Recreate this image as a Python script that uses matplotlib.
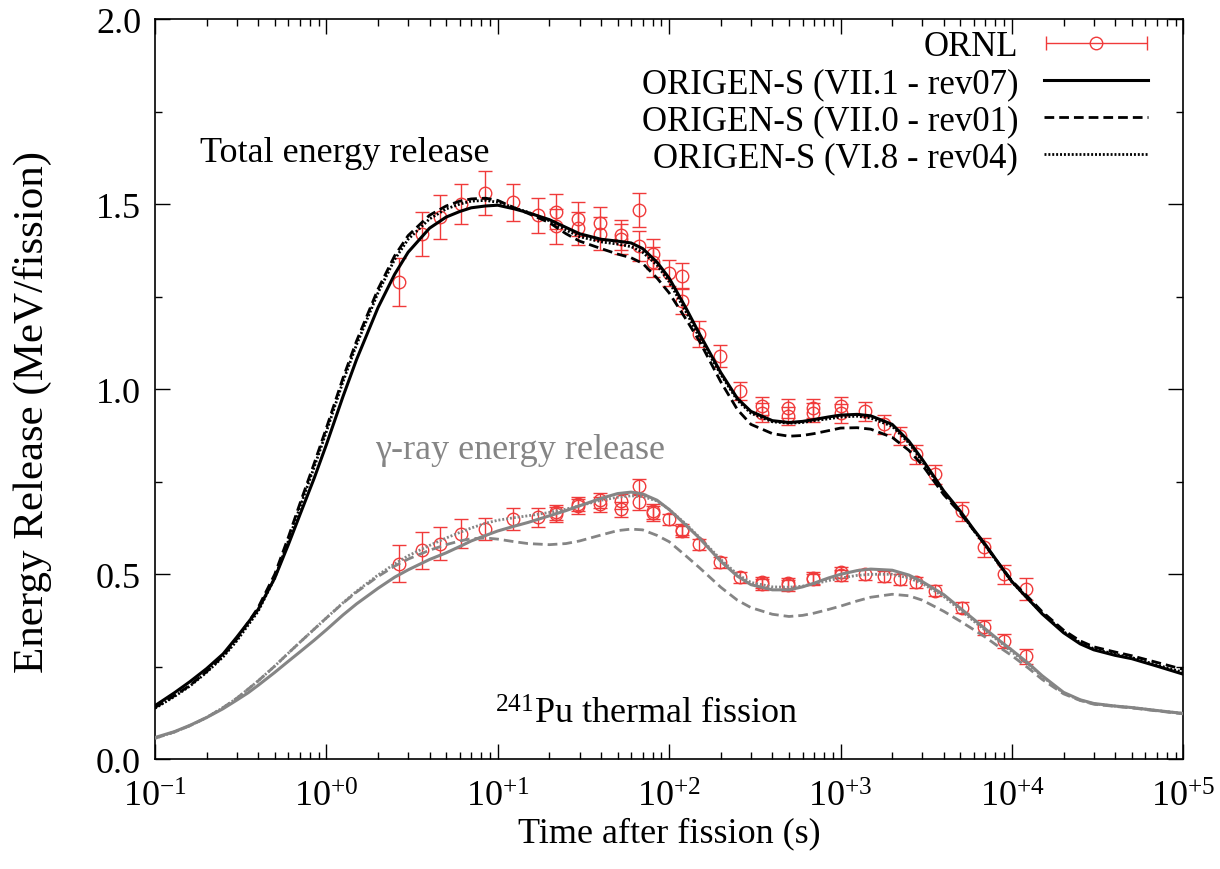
"""Pu-241 thermal fission: decay-heat energy release, ORNL data vs ORIGEN-S."""
import matplotlib
matplotlib.use("Agg")
import matplotlib.pyplot as plt
from matplotlib.legend_handler import HandlerErrorbar
from matplotlib.ticker import FixedLocator, FixedFormatter, LogLocator, MultipleLocator, NullFormatter

plt.rcParams["font.family"] = ["Liberation Serif", "DejaVu Serif"]
plt.rcParams["mathtext.fontset"] = "custom"
plt.rcParams["mathtext.rm"] = "Liberation Serif"
plt.rcParams["mathtext.it"] = "Liberation Serif:italic"

# ---- ORNL measurements (time s, total, gamma, errors) ----
t_ornl = [2.65, 3.6, 4.6, 6.1, 8.4, 12.3, 17.2, 22, 22, 29.4, 29.4, 39.5, 39.5,
          52.5, 52.5, 67, 67, 80, 80, 100, 119, 119, 149, 198, 259, 350, 350,
          495, 495, 692, 692, 1000, 1000, 1380, 1780, 2230, 2750, 3550, 5080,
          6900, 8950, 12000]
tot_ornl = [1.29, 1.42, 1.465, 1.50, 1.53, 1.505, 1.47, 1.48, 1.44, 1.46, 1.435,
            1.448, 1.42, 1.416, 1.405, 1.484, 1.387, 1.365, 1.343, 1.313, 1.305,
            1.238, 1.15, 1.09, 0.995, 0.955, 0.937, 0.948, 0.928, 0.948, 0.937,
            0.955, 0.935, 0.94, 0.905, 0.874, 0.824, 0.77, 0.67, 0.573, 0.50, 0.46]
tot_err = [0.065, 0.06, 0.06, 0.055, 0.06, 0.05, 0.047, 0.047, 0.047, 0.045, 0.045,
           0.045, 0.045, 0.04, 0.04, 0.045, 0.04, 0.04, 0.04, 0.035, 0.035,
           0.035, 0.035, 0.03, 0.025, 0.025, 0.025, 0.025, 0.025, 0.025, 0.025,
           0.025, 0.025, 0.025, 0.025, 0.025, 0.025, 0.025, 0.025, 0.025, 0.025, 0.03]
gam_ornl = [0.529, 0.565, 0.583, 0.61, 0.622, 0.649, 0.654, 0.662, 0.668, 0.684,
            0.69, 0.689, 0.70, 0.697, 0.676, 0.738, 0.695, 0.67, 0.665, 0.649,
            0.616, 0.62, 0.581, 0.532, 0.492, 0.473, 0.478, 0.476, 0.47, 0.486,
            0.49, 0.505, 0.497, 0.50, 0.495, 0.486, 0.478, 0.455, 0.41, 0.357,
            0.32, 0.278]
gam_err = [0.05, 0.05, 0.045, 0.04, 0.03, 0.03, 0.025, 0.02, 0.02, 0.02, 0.02,
           0.02, 0.02, 0.02, 0.02, 0.02, 0.02, 0.02, 0.02, 0.015, 0.015, 0.015,
           0.015, 0.015, 0.015, 0.015, 0.015, 0.015, 0.015, 0.015, 0.015, 0.015,
           0.015, 0.015, 0.015, 0.015, 0.015, 0.015, 0.015, 0.02, 0.02, 0.02]

# ---- ORIGEN-S calculations on a common time grid ----
t_calc = [0.1, 0.13, 0.16, 0.2, 0.25, 0.3, 0.35, 0.4, 0.5, 0.6, 0.7, 0.85, 1,
          1.25, 1.5, 2, 2.5, 3, 4, 5, 6, 7, 8.5, 10, 12.5, 15, 20, 25, 30, 40,
          50, 60, 70, 85, 100, 125, 150, 200, 250, 300, 400, 500, 600, 700, 850,
          1000, 1250, 1500, 2000, 2500, 3000, 4000, 5000, 6000, 7000, 8500,
          1e4, 1.25e4, 1.5e4, 2e4, 2.5e4, 3e4, 4e4, 5e4, 7e4, 1e5]

tot_rev07 = [0.145, 0.18, 0.21, 0.245, 0.285, 0.33, 0.37, 0.405, 0.49, 0.58,
             0.66, 0.76, 0.85, 0.98, 1.08, 1.22, 1.31, 1.37, 1.435, 1.465, 1.48,
             1.49, 1.495, 1.497, 1.487, 1.477, 1.458, 1.437, 1.42, 1.405, 1.40,
             1.395, 1.38, 1.343, 1.30, 1.22, 1.15, 1.045, 0.975, 0.94, 0.915,
             0.91, 0.913, 0.918, 0.925, 0.93, 0.932, 0.928, 0.905, 0.86, 0.81,
             0.725, 0.67, 0.62, 0.58, 0.525, 0.48, 0.432, 0.393, 0.342, 0.312,
             0.296, 0.281, 0.272, 0.252, 0.23]
tot_rev01 = [0.14, 0.172, 0.20, 0.237, 0.28, 0.325, 0.37, 0.41, 0.50, 0.60,
             0.69, 0.80, 0.895, 1.03, 1.13, 1.27, 1.36, 1.415, 1.47, 1.495, 1.508,
             1.514, 1.516, 1.51, 1.49, 1.475, 1.45, 1.42, 1.40, 1.38, 1.365,
             1.355, 1.34, 1.30, 1.26, 1.19, 1.13, 1.02, 0.945, 0.905, 0.88,
             0.873, 0.875, 0.88, 0.888, 0.895, 0.896, 0.892, 0.87, 0.835, 0.795,
             0.715, 0.665, 0.618, 0.578, 0.525, 0.482, 0.437, 0.399, 0.349, 0.32,
             0.304, 0.29, 0.28, 0.262, 0.243]
tot_rev04 = [0.138, 0.17, 0.198, 0.235, 0.277, 0.32, 0.363, 0.40, 0.49, 0.59,
             0.68, 0.79, 0.885, 1.02, 1.12, 1.26, 1.35, 1.405, 1.46, 1.487, 1.50,
             1.508, 1.51, 1.505, 1.49, 1.478, 1.455, 1.43, 1.412, 1.398, 1.392,
             1.385, 1.37, 1.335, 1.29, 1.21, 1.14, 1.04, 0.97, 0.935, 0.912,
             0.908, 0.91, 0.915, 0.92, 0.925, 0.927, 0.922, 0.90, 0.855, 0.805,
             0.722, 0.667, 0.618, 0.577, 0.523, 0.479, 0.432, 0.395, 0.345, 0.315,
             0.299, 0.284, 0.275, 0.255, 0.235]

gam_rev07 = [0.059, 0.075, 0.092, 0.113, 0.137, 0.16, 0.18, 0.20, 0.235, 0.265,
             0.29, 0.322, 0.35, 0.39, 0.42, 0.462, 0.492, 0.512, 0.54, 0.558,
             0.575, 0.59, 0.605, 0.617, 0.63, 0.64, 0.658, 0.672, 0.685, 0.705,
             0.718, 0.722, 0.717, 0.70, 0.675, 0.633, 0.598, 0.535, 0.495, 0.472,
             0.458, 0.458, 0.466, 0.476, 0.49, 0.50, 0.51, 0.514, 0.511, 0.498,
             0.48, 0.445, 0.408, 0.378, 0.352, 0.32, 0.295, 0.259, 0.226, 0.181,
             0.161, 0.151, 0.144, 0.14, 0.132, 0.124]
gam_rev01 = [0.057, 0.074, 0.091, 0.113, 0.14, 0.165, 0.19, 0.212, 0.252, 0.287,
             0.316, 0.352, 0.382, 0.422, 0.452, 0.494, 0.522, 0.541, 0.565, 0.58,
             0.59, 0.596, 0.598, 0.595, 0.588, 0.583, 0.58, 0.583, 0.59, 0.606,
             0.618, 0.622, 0.62, 0.605, 0.588, 0.55, 0.518, 0.465, 0.43, 0.41,
             0.392, 0.386, 0.389, 0.395, 0.405, 0.414, 0.428, 0.438, 0.446, 0.442,
             0.43, 0.40, 0.373, 0.35, 0.33, 0.302, 0.28, 0.246, 0.216, 0.177,
             0.159, 0.149, 0.143, 0.139, 0.131, 0.123]
gam_rev04 = [0.057, 0.074, 0.091, 0.113, 0.14, 0.165, 0.19, 0.212, 0.252, 0.287,
             0.316, 0.352, 0.382, 0.423, 0.454, 0.498, 0.528, 0.55, 0.578, 0.598,
             0.613, 0.625, 0.638, 0.646, 0.653, 0.658, 0.667, 0.676, 0.685, 0.70,
             0.708, 0.712, 0.71, 0.698, 0.675, 0.636, 0.60, 0.54, 0.50, 0.478,
             0.466, 0.465, 0.468, 0.474, 0.483, 0.49, 0.497, 0.50, 0.50, 0.49,
             0.475, 0.44, 0.403, 0.373, 0.348, 0.317, 0.29, 0.256, 0.224, 0.179,
             0.16, 0.15, 0.144, 0.14, 0.132, 0.124]

x_ticks = [1e-1, 1e0, 1e1, 1e2, 1e3, 1e4, 1e5]
x_ticklabels = [r"$10^{-1}$", r"$10^{+0}$", r"$10^{+1}$", r"$10^{+2}$",
                r"$10^{+3}$", r"$10^{+4}$", r"$10^{+5}$"]

RED = "#f03a3a"
GREY = "#858585"
FS = 26

fig = plt.figure(figsize=(12.2, 8.7), dpi=100)
ax = fig.add_axes([0.127, 0.126, 0.843, 0.851])

# measurements first, curves on top of them
eb_kw = dict(fmt="o", color=RED, mfc="none", mec=RED, ms=9, mew=1.0,
             elinewidth=1.0, capsize=5, capthick=1.0, zorder=2)
ax.errorbar(t_ornl, tot_ornl, yerr=tot_err, **eb_kw)
ax.errorbar(t_ornl, gam_ornl, yerr=gam_err, **eb_kw)
# legend key drawn as a horizontal error bar, kept outside the view
ornl_key = ax.errorbar([1e-3], [-1.0], xerr=[[1e-4], [1e-4]], **eb_kw)

dashed = (0, (3.5, 1.8))
dotted = (0, (0.7, 0.7))
l07, = ax.plot(t_calc, tot_rev07, color="black", lw=2.2, ls="-", zorder=4)
l01, = ax.plot(t_calc, tot_rev01, color="black", lw=2.0, ls=dashed, zorder=3)
l04, = ax.plot(t_calc, tot_rev04, color="black", lw=2.0, ls=dotted, zorder=3)
ax.plot(t_calc, gam_rev07, color=GREY, lw=2.2, ls="-", zorder=4)
ax.plot(t_calc, gam_rev01, color=GREY, lw=2.0, ls=dashed, zorder=3)
ax.plot(t_calc, gam_rev04, color=GREY, lw=2.0, ls=dotted, zorder=3)

ax.set_xscale("log")
ax.set_xlim(1e-1, 1e5)
ax.set_ylim(0.0, 2.0)

ax.xaxis.set_major_locator(FixedLocator(x_ticks))
ax.xaxis.set_major_formatter(FixedFormatter(x_ticklabels))
ax.xaxis.set_minor_locator(LogLocator(base=10, subs=range(2, 10), numticks=20))
ax.xaxis.set_minor_formatter(NullFormatter())
ax.yaxis.set_major_locator(MultipleLocator(0.5))
ax.yaxis.set_minor_locator(MultipleLocator(0.25))
ax.yaxis.set_major_formatter(lambda v, pos: f"{v:.1f}")

ax.tick_params(which="both", direction="in", top=True, right=True, labelsize=FS)
ax.tick_params(which="major", length=11, width=1.0, pad=10)
ax.tick_params(axis="x", which="major", pad=15)
ax.tick_params(which="minor", length=5, width=1.0)
for sp in ax.spines.values():
    sp.set_linewidth(1.2)

ax.set_xlabel("Time after fission (s)", fontsize=FS, labelpad=2)
ax.set_ylabel("Energy Release (MeV/fission)", fontsize=31)
ax.yaxis.set_label_coords(-0.1, 0.47)

ax.text(0.183, 1.64, "Total energy release", fontsize=FS, color="black", va="center")
ax.text(1.92, 0.838, "\u03b3-ray energy release", fontsize=FS, color=GREY, va="center")
ax.text(9.6, 0.10, r"$^{241}$Pu thermal fission", fontsize=FS, color="black",
        va="baseline")

leg = ax.legend(
    [ornl_key, l07, l01, l04],
    ["ORNL", "ORIGEN-S (VII.1 - rev07)", "ORIGEN-S (VII.0 - rev01)",
     "ORIGEN-S (VI.8 - rev04)"],
    loc="upper right", bbox_to_anchor=(0.966, 0.985), frameon=False,
    markerfirst=False, fontsize=25, handlelength=3.0, handletextpad=0.75,
    labelspacing=0.12, numpoints=1, borderpad=0.0, borderaxespad=0.0,
    handler_map={type(ornl_key): HandlerErrorbar(xerr_size=1.45)},
)

fig.savefig("out.png", dpi=100)
